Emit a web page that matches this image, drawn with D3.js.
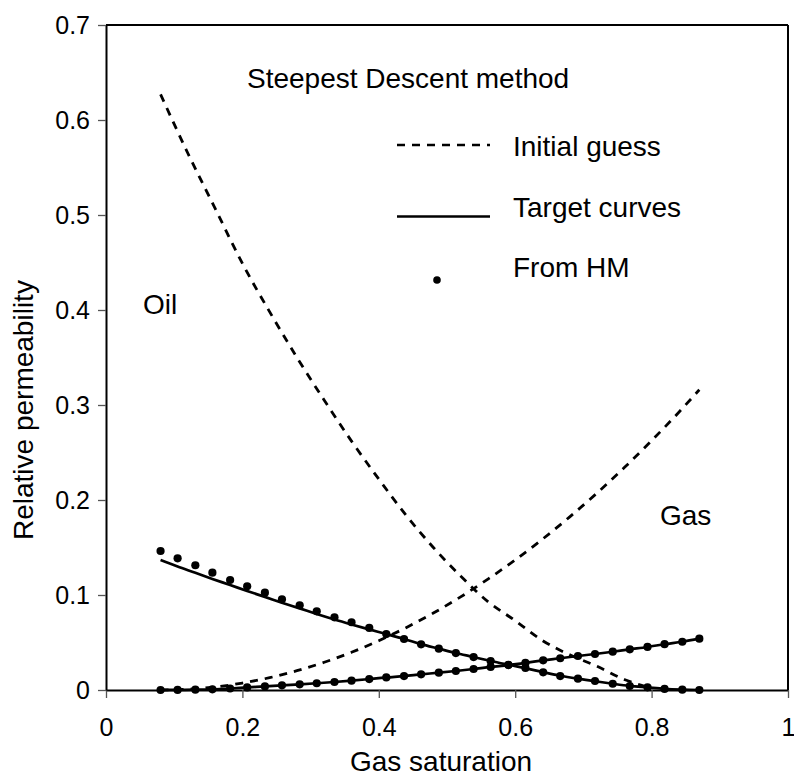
<!DOCTYPE html>
<html>
<head>
<meta charset="utf-8">
<script src="https://cdn.jsdelivr.net/npm/d3@7/dist/d3.min.js"></script>
<style>
  html, body { margin: 0; padding: 0; background: #fff; }
  svg { display: block; }
  text { font-family: "Liberation Sans", Arial, sans-serif; fill: #000; }
</style>
</head>
<body>
<svg id="chart" width="794" height="778"></svg>
<script>
// Gas saturation grid of the history-matched points and target curves
const sgHM = [0.080, 0.105, 0.131, 0.156, 0.182, 0.207, 0.233, 0.258, 0.284, 0.309,
              0.335, 0.360, 0.386, 0.411, 0.437, 0.462, 0.488, 0.513, 0.539, 0.564,
              0.590, 0.615, 0.641, 0.666, 0.692, 0.717, 0.743, 0.768, 0.794, 0.819,
              0.845, 0.870];

// Oil relative permeability from history matching (dots)
const kroHM = [0.1463, 0.1386, 0.1313, 0.1235, 0.1158, 0.1092, 0.1024, 0.0955, 0.0892, 0.0828,
               0.0765, 0.0713, 0.0653, 0.0589, 0.0537, 0.0481, 0.0435, 0.0389, 0.0347, 0.0305,
               0.0266, 0.0232, 0.0186, 0.0147, 0.0119, 0.0095, 0.0066, 0.0042, 0.0028, 0.0011,
               0.0003, 0.0000];

// Gas relative permeability from history matching (dots)
const krgHM = [0.0000, 0.0001, 0.0003, 0.0007, 0.0016, 0.0027, 0.0038, 0.0049, 0.0060, 0.0071,
               0.0084, 0.0098, 0.0115, 0.0132, 0.0147, 0.0165, 0.0182, 0.0200, 0.0221, 0.0243,
               0.0262, 0.0285, 0.0312, 0.0334, 0.0358, 0.0379, 0.0403, 0.0428, 0.0453, 0.0482,
               0.0508, 0.0540];

// Target curves (solid)
const kroTarget = [0.1368, 0.1300, 0.1234, 0.1169, 0.1105, 0.1042, 0.0980, 0.0919, 0.0859, 0.0800,
                   0.0742, 0.0690, 0.0638, 0.0589, 0.0537, 0.0483, 0.0435, 0.0389, 0.0347, 0.0305,
                   0.0266, 0.0230, 0.0188, 0.0150, 0.0119, 0.0093, 0.0066, 0.0043, 0.0027, 0.0012,
                   0.0004, 0.0000];
const krgTarget = [0.0000, 0.0001, 0.0003, 0.0007, 0.0016, 0.0027, 0.0038, 0.0049, 0.0060, 0.0071,
                   0.0084, 0.0098, 0.0115, 0.0132, 0.0147, 0.0165, 0.0182, 0.0200, 0.0221, 0.0243,
                   0.0262, 0.0285, 0.0312, 0.0334, 0.0358, 0.0379, 0.0403, 0.0428, 0.0453, 0.0482,
                   0.0508, 0.0540];

// Initial guess curves (dashed)
const sgInitOil = [0.08, 0.12, 0.16, 0.20, 0.24, 0.28, 0.32, 0.36, 0.40, 0.44,
                   0.48, 0.52, 0.56, 0.60, 0.64, 0.68, 0.72, 0.76, 0.80];
const kroInit   = [0.627, 0.565, 0.507, 0.449, 0.398, 0.350, 0.305, 0.262, 0.222, 0.184,
                   0.150, 0.120, 0.093, 0.073, 0.052, 0.037, 0.025, 0.011, 0.002];
const sgInitGas = [0.08, 0.12, 0.16, 0.20, 0.24, 0.28, 0.32, 0.36, 0.40, 0.44,
                   0.48, 0.52, 0.56, 0.60, 0.64, 0.68, 0.72, 0.76, 0.80, 0.84, 0.87];
const krgInit   = [0.0000, 0.0008, 0.0032, 0.0073, 0.0130, 0.0203, 0.0292, 0.0397, 0.0519, 0.0656,
                   0.0810, 0.0980, 0.1167, 0.1369, 0.1588, 0.1823, 0.2074, 0.2341, 0.2625, 0.2924,
                   0.3160];

// Axis ticks
const xTicks = [0, 0.2, 0.4, 0.6, 0.8, 1];
const xTickLabels = ["0", "0.2", "0.4", "0.6", "0.8", "1"];
const yTicks = [0, 0.1, 0.2, 0.3, 0.4, 0.5, 0.6, 0.7];
const yTickLabels = ["0", "0.1", "0.2", "0.3", "0.4", "0.5", "0.6", "0.7"];

const legendLabels = ["Initial guess", "Target curves", "From HM"];

const svg = d3.select("#chart");
const margin = { left: 106, top: 25, right: 6, bottom: 88 };
const W = 794 - margin.left - margin.right;
const H = 778 - margin.top - margin.bottom;

const x = d3.scaleLinear().domain([0, 1]).range([0, W]);
const y = d3.scaleLinear().domain([0, 0.7]).range([H, 0]);

const g = svg.append("g").attr("transform", `translate(${margin.left},${margin.top})`);

// Axes
const xAxis = g.append("g").attr("transform", `translate(0,${H})`)
  .call(d3.axisBottom(x).tickValues(xTicks).tickFormat((d, i) => xTickLabels[i])
    .tickSizeInner(8).tickSizeOuter(0).tickPadding(20));
const yAxis = g.append("g")
  .call(d3.axisLeft(y).tickValues(yTicks).tickFormat((d, i) => yTickLabels[i])
    .tickSizeInner(8).tickSizeOuter(0).tickPadding(8));

[xAxis, yAxis].forEach(a => {
  a.select(".domain").attr("stroke", "#000").attr("stroke-width", 2);
  a.selectAll(".tick line").attr("stroke", "#555").attr("stroke-width", 1.3);
  a.selectAll(".tick text").style("font-size", "25px").attr("fill", "#000");
});

// Frame on top and right
g.append("line").attr("x1", 0).attr("x2", x(1)).attr("y1", y(0.7)).attr("y2", y(0.7))
  .attr("stroke", "#000").attr("stroke-width", 2);
g.append("line").attr("x1", x(1)).attr("x2", x(1)).attr("y1", y(0.7)).attr("y2", y(0))
  .attr("stroke", "#000").attr("stroke-width", 2);

// Axis titles
svg.append("text").attr("x", margin.left + x(0.5) - 6).attr("y", 771)
  .attr("text-anchor", "middle").style("font-size", "28px").text("Gas saturation");
svg.append("text").attr("transform", "translate(33,540) rotate(-90)")
  .attr("text-anchor", "start").style("font-size", "28px").text("Relative permeability");

const line = d3.line().x(d => x(d[0])).y(d => y(d[1])).curve(d3.curveMonotoneX);

// Initial guess (dashed)
const dashed = { stroke: "#000", width: 2.8, dash: "8,7" };
[[sgInitOil, kroInit], [sgInitGas, krgInit]].forEach(([xs, ys]) => {
  g.append("path").datum(xs.map((v, i) => [v, ys[i]]))
    .attr("d", line).attr("fill", "none").attr("stroke", dashed.stroke)
    .attr("stroke-width", dashed.width).attr("stroke-dasharray", dashed.dash);
});

// Target curves (solid)
[kroTarget, krgTarget].forEach(ys => {
  g.append("path").datum(sgHM.map((v, i) => [v, ys[i]]))
    .attr("d", line).attr("fill", "none").attr("stroke", "#000").attr("stroke-width", 2.7);
});

// History-matched points
[kroHM, krgHM].forEach(ys => {
  g.append("g").selectAll("circle").data(sgHM.map((v, i) => [v, ys[i]])).join("circle")
    .attr("cx", d => x(d[0])).attr("cy", d => y(d[1])).attr("r", 4.1).attr("fill", "#000");
});

// Annotations
svg.append("text").attr("x", 247).attr("y", 88).style("font-size", "28px").text("Steepest Descent method");
svg.append("text").attr("x", 143).attr("y", 314).style("font-size", "28px").text("Oil");
svg.append("text").attr("x", 660).attr("y", 525).style("font-size", "28px").text("Gas");

// Legend
const lg = svg.append("g");
lg.append("line").attr("x1", 397).attr("x2", 490).attr("y1", 145).attr("y2", 145)
  .attr("stroke", "#000").attr("stroke-width", 2.4).attr("stroke-dasharray", dashed.dash);
lg.append("line").attr("x1", 397).attr("x2", 490).attr("y1", 216.5).attr("y2", 216.5)
  .attr("stroke", "#000").attr("stroke-width", 2.4);
lg.append("circle").attr("cx", 437).attr("cy", 280).attr("r", 3.8).attr("fill", "#000");
const legendY = [156, 217, 277];
legendLabels.forEach((t, i) => {
  lg.append("text").attr("x", 513).attr("y", legendY[i]).style("font-size", "28px").text(t);
});
</script>
</body>
</html>
